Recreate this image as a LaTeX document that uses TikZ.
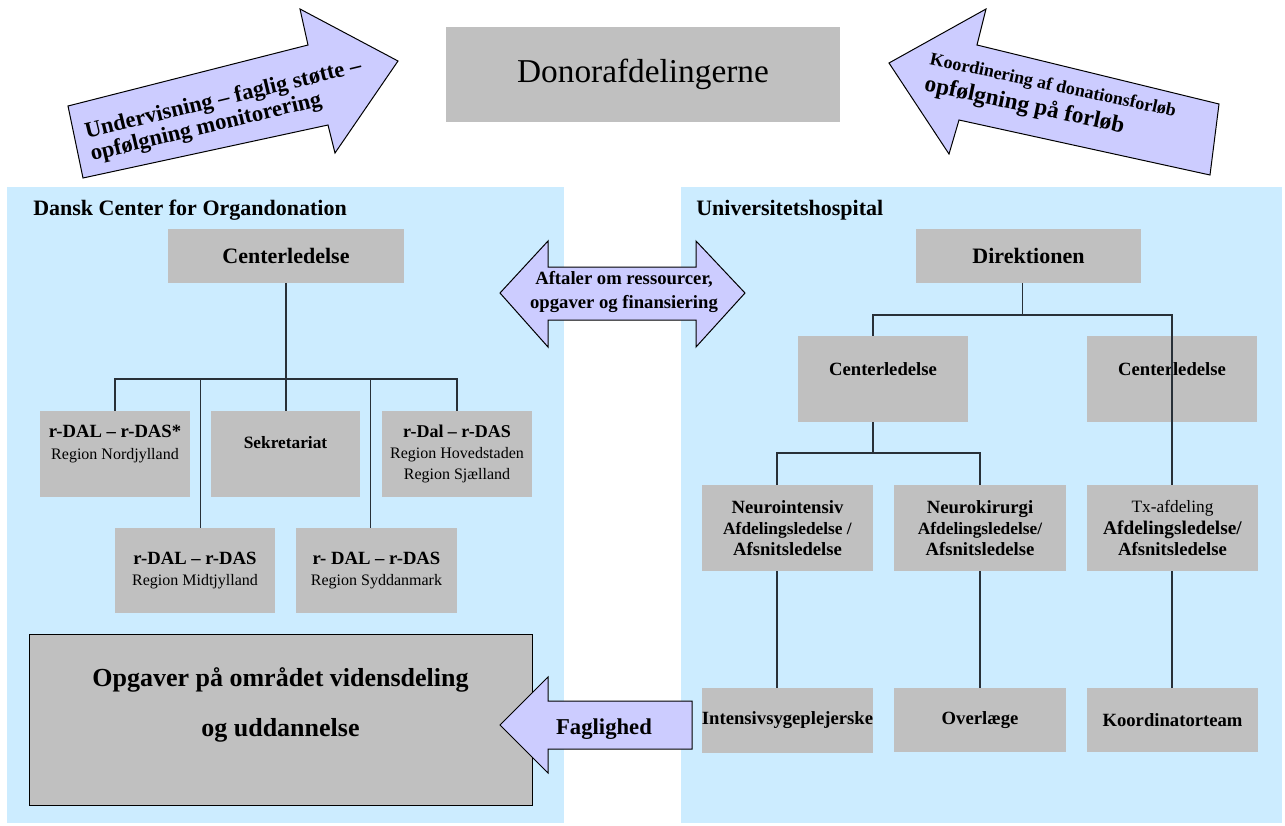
\documentclass[tikz,border=0pt]{standalone}
\usepackage{fontspec}
\setmainfont{Liberation Serif}

\definecolor{panelblue}{RGB}{204,236,255}
\definecolor{boxgray}{RGB}{192,192,192}
\definecolor{arrowlilac}{RGB}{204,204,255}
\definecolor{linkdark}{RGB}{40,48,56}

\newcommand{\fsz}[2]{\fontsize{#1}{#2}\selectfont}

\begin{document}
\begin{tikzpicture}[x=0.75pt,y=0.75pt,yscale=-1,xscale=1,
  gbox/.style={fill=boxgray,draw=none,inner sep=0pt,align=center},
  blockarrow/.style={fill=arrowlilac,draw=black,line width=0.75pt},
  orgline/.style={draw=linkdark,line width=1pt},
  btxt/.style={align=center,inner sep=0pt,font=\bfseries\fsz{14pt}{16pt}}]
\useasboundingbox (0,0) rectangle (1285,825);

%Shape: Rectangle (panels)
\fill[panelblue] (7,187) rectangle (564,823);
\fill[panelblue] (681,187) rectangle (1282,823);

%Shape: Right Arrow
\draw[blockarrow] (83,178) -- (68,106) -- (308,45) -- (300,9) -- (398,61) -- (335,153) -- (328,125) -- cycle;
\node[rotate=13.5,align=left,font=\bfseries\fsz{17pt}{17.5pt}] (undtxt) at (226,111) {Undervisning – faglig støtte –\\opfølgning monitorering};

%Shape: Left Arrow
\draw[blockarrow] (1210,175) -- (1219,104) -- (977,45) -- (986,9) -- (889,63) -- (949,154) -- (959,120) -- cycle;
\node[rotate=-12,align=left,font=\bfseries\fsz{14pt}{20pt}] (koordtxt) at (1050,100) {{\fsz{13.5pt}{20pt}Koordinering af donationsforløb}\\{\fsz{17.5pt}{20pt}opfølgning på forløb}};

%Shape: Rectangle
\node[gbox,minimum width=295.5pt,minimum height=71.25pt,font=\fsz{25pt}{30pt}] (donor) at (643,74.5) {Donorafdelingerne};

%Titles
\node[anchor=base west,inner sep=0pt,font=\bfseries\fsz{16.5pt}{20pt}] (dcotitle) at (33,215) {Dansk Center for Organdonation};
\node[anchor=base west,inner sep=0pt,font=\bfseries\fsz{16.5pt}{20pt}] (uhtitle) at (696,215) {Universitetshospital};

%Shape: Rectangle (left tree)
\node[gbox,minimum width=177pt,minimum height=40.5pt,font=\bfseries\fsz{16.5pt}{20pt}] (lcl) at (286,256) {Centerledelse};
\node[gbox,minimum width=112.5pt,minimum height=64.5pt] (rnj) at (115,454) {};
\node[btxt] (rnjtxt) at (115,444) {r-DAL – r-DAS*\\{\mdseries\fsz{12pt}{16pt}Region Nordjylland}};
\node[gbox,minimum width=111.75pt,minimum height=64.5pt] (sek) at (285.5,454) {};
\node[btxt,font=\bfseries\fsz{13pt}{16pt}] (sektxt) at (285.5,443) {Sekretariat};
\node[gbox,minimum width=112.5pt,minimum height=64.5pt,font=\bfseries\fsz{13.5pt}{16pt}] (rhs) at (457,454) {r-Dal – r-DAS\\{\mdseries\fsz{12pt}{16pt}Region Hovedstaden}\\{\mdseries\fsz{12pt}{16pt}Region Sjælland}};
\node[gbox,minimum width=120pt,minimum height=63.75pt,font=\bfseries\fsz{14pt}{16pt}] (rmj) at (195,570.5) {r-DAL – r-DAS\\{\mdseries\fsz{12pt}{16pt}Region Midtjylland}};
\node[gbox,minimum width=120.75pt,minimum height=63.75pt,font=\bfseries\fsz{14pt}{16pt}] (rsd) at (376.5,570.5) {r- DAL – r-DAS\\{\mdseries\fsz{12pt}{16pt}Region Syddanmark}};
\node[gbox,draw=black,line width=0.75pt,minimum width=377.25pt,minimum height=128.25pt] (opg) at (280.5,719.5) {};
\node[btxt,font=\bfseries\fsz{19.5pt}{37pt}] (opgtxt) at (280.5,705) {Opgaver på området vidensdeling\\og uddannelse};

%Shape: Left Arrow
\draw[blockarrow] (692,701) -- (548,701) -- (548,677) -- (500,725) -- (548,773) -- (548,749) -- (692,749) -- cycle;
\node[font=\bfseries\fsz{17pt}{20pt}] (fagtxt) at (604,729) {Faglighed};

%Shape: Left Right Arrow
\draw[blockarrow] (500,293) -- (548,241) -- (548,267) -- (696,267) -- (696,241) -- (745,293) -- (696,347) -- (696,320) -- (548,320) -- (548,347) -- cycle;
\node[align=center,font=\bfseries\fsz{14pt}{18pt}] (aftxt) at (624,292) {Aftaler om ressourcer,\\opgaver og finansiering};

%Shape: Rectangle (right tree)
\node[gbox,minimum width=168.75pt,minimum height=40.5pt,font=\bfseries\fsz{16.5pt}{20pt}] (dir) at (1028.5,256) {Direktionen};
\node[gbox,minimum width=127.5pt,minimum height=64.5pt] (rcla) at (883,379) {};
\node[btxt] (rclatxt) at (883,369) {Centerledelse};
\node[gbox,minimum width=127.5pt,minimum height=64.5pt] (rclb) at (1172,379) {};
\node[btxt] (rclbtxt) at (1172,369) {Centerledelse};
\node[gbox,minimum width=128.25pt,minimum height=64.5pt,font=\bfseries\fsz{14pt}{16pt}] (ni) at (787.5,528) {Neurointensiv\\{\fsz{13pt}{16pt}Afdelingsledelse /}\\Afsnitsledelse};
\node[gbox,minimum width=129pt,minimum height=64.5pt,font=\bfseries\fsz{14pt}{16pt}] (nk) at (980,528) {Neurokirurgi\\{\fsz{13pt}{16pt}Afdelingsledelse/}\\Afsnitsledelse};
\node[gbox,minimum width=128.25pt,minimum height=64.5pt,font=\bfseries\fsz{14pt}{16pt}] (tx) at (1172.5,528) {{\mdseries\fsz{13pt}{16pt}Tx-afdeling}\\{\fsz{14.5pt}{16pt}Afdelingsledelse/}\\Afsnitsledelse};
\node[gbox,minimum width=128.25pt,minimum height=48.75pt,font=\bfseries\fsz{14pt}{16pt}] (isp) at (787.5,720.5) {Intensivsygeplejerske};
\node[gbox,minimum width=129pt,minimum height=48pt,font=\bfseries\fsz{14pt}{16pt}] (ovl) at (980,720) {Overlæge};
\node[gbox,minimum width=128.25pt,minimum height=48pt,font=\bfseries\fsz{14pt}{16pt}] (kt) at (1172.5,720) {Koordinatorteam};

%Straight Lines (left tree)
\coordinate (lbus) at (286,379);
\coordinate (lmida) at (200.5,379);
\coordinate (lmidb) at (370.5,379);
\draw[orgline] (lcl.south) -- (lcl.south |- sek.north);
\draw[orgline] (rnj.north) |- (lbus) -| (rhs.north);
\draw[orgline] (lmida) -- (lmida |- rmj.north);
\draw[orgline] (lmidb) -- (lmidb |- rsd.north);

%Straight Lines (right tree)
\coordinate (rbus) at (1022.5,315);
\coordinate (rbusl) at (873,315);
\coordinate (rbusr) at (1172,315);
\draw[orgline] (rbus |- dir.south) -- (rbus);
\draw[orgline] (rbusl |- rcla.north) -- (rbusl) -- (rbusr) -- (rbusr |- tx.north);
\coordinate (nbus) at (873,453);
\coordinate (nbusl) at (777,453);
\coordinate (nbusr) at (980,453);
\draw[orgline] (nbus |- rcla.south) -- (nbus);
\draw[orgline] (nbusl |- ni.north) -- (nbusl) -- (nbusr) -- (nbusr |- nk.north);
\draw[orgline] (nbusl |- ni.south) -- (nbusl |- isp.north);
\draw[orgline] (nk.south) -- (nk.south |- ovl.north);
\draw[orgline] (rbusr |- tx.south) -- (rbusr |- kt.north);

\end{tikzpicture}
\end{document}
